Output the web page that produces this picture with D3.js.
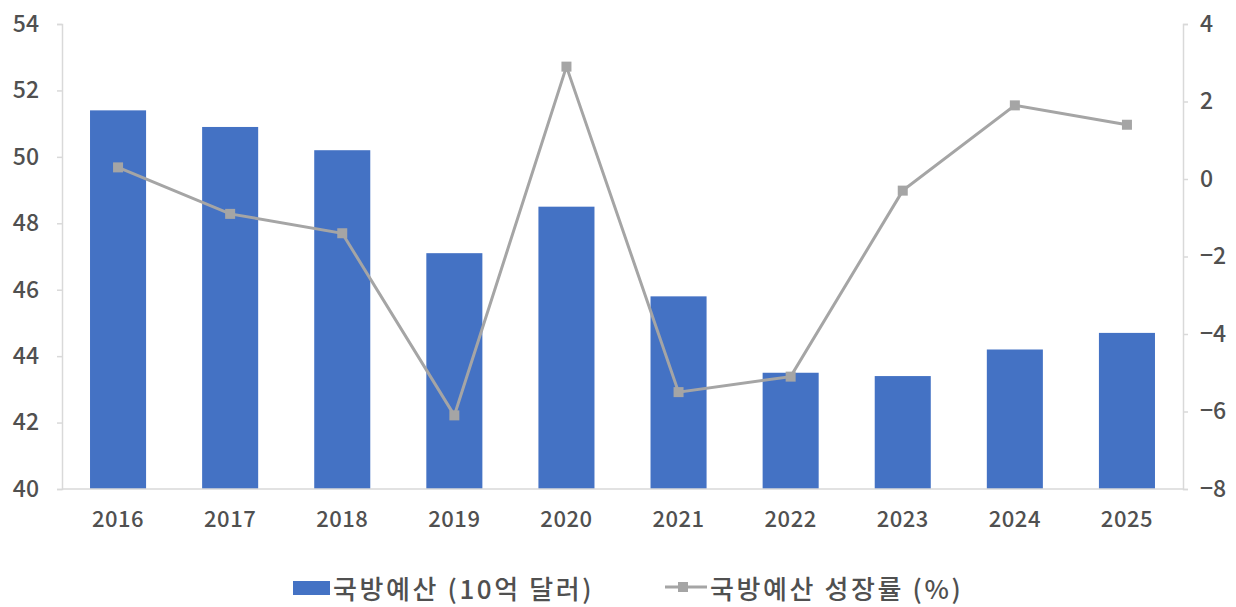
<!DOCTYPE html>
<html><head><meta charset="utf-8">
<script src="https://cdn.jsdelivr.net/npm/d3@7/dist/d3.min.js"></script>
<style>
body{margin:0;background:#fff;}
svg text{font-family:"Noto Sans CJK KR","Noto Sans",sans-serif;}
</style></head><body>
<svg id="c" width="1236" height="607"></svg>
<script>
const years = ["2016","2017","2018","2019","2020","2021","2022","2023","2024","2025"];
const budget = [51.4,50.9,50.2,47.1,48.5,45.8,43.5,43.4,44.2,44.7];
const growth = [0.3,-0.9,-1.4,-6.1,2.9,-5.5,-5.1,-0.3,1.9,1.4];
const leftTicks = [40,42,44,46,48,50,52,54];
const rightTicks = [-8,-6,-4,-2,0,2,4];
const legendLabels = ["국방예산 (10억 달러)","국방예산 성장률 (%)"];

const svg = d3.select("#c");
const L=62, R=1183, T=24, B=489;
const x = d3.scaleBand().domain(years).range([L,R]).paddingInner(0.5).paddingOuter(0.25);
const yL = d3.scaleLinear().domain([40,54]).range([B,T]);
const yR = d3.scaleLinear().domain([-8,4]).range([B,T]);
const axisCol="#d9d9d9", txtCol="#505050";
const FW = 500;

// bars
svg.append("g").selectAll("rect").data(budget).join("rect")
  .attr("x",(d,i)=>x(years[i])).attr("width",x.bandwidth())
  .attr("y",d=>yL(d)).attr("height",d=>B-yL(d)).attr("fill","#4472C4");

// axes
const gl = svg.append("g").attr("transform",`translate(${L},0)`)
  .call(d3.axisLeft(yL).tickValues(leftTicks).tickSize(5).tickPadding(18));
const gr = svg.append("g").attr("transform",`translate(${R},0)`)
  .call(d3.axisRight(yR).tickValues(rightTicks).tickSize(5).tickPadding(12));
const gb = svg.append("g").attr("transform",`translate(0,${B})`)
  .call(d3.axisBottom(x).tickSize(0).tickPadding(22));
[gl,gr,gb].forEach(g=>{
  g.select(".domain").attr("stroke",axisCol).attr("stroke-width",1.5);
  g.selectAll(".tick line").attr("stroke",axisCol).attr("stroke-width",1.5);
  g.selectAll(".tick text").attr("fill",txtCol).attr("font-size",23).attr("font-weight",FW)
   .style("font-family",'"Noto Sans CJK KR","Noto Sans",sans-serif');
});
gb.select(".domain").attr("d",`M${L},0H${R}`);
gb.selectAll(".tick text").attr("font-size",22).attr("letter-spacing",0.5);

// line
const cx = i=>x(years[i])+x.bandwidth()/2;
svg.append("path").datum(growth)
  .attr("d",d3.line().x((d,i)=>cx(i)).y(d=>yR(d)))
  .attr("fill","none").attr("stroke","#A5A5A5").attr("stroke-width",3);
svg.append("g").selectAll("rect").data(growth).join("rect")
  .attr("x",(d,i)=>cx(i)-5).attr("y",d=>yR(d)-5).attr("width",10).attr("height",10)
  .attr("fill","#A5A5A5");

// legend
const lg = svg.append("g");
lg.append("rect").attr("x",293).attr("y",581).attr("width",37).attr("height",14).attr("fill","#4472C4");
lg.append("text").attr("x",333).attr("y",599).attr("font-size",26).attr("font-weight",FW)
  .attr("letter-spacing",2.6).attr("fill",txtCol).text(legendLabels[0]);
lg.append("line").attr("x1",665).attr("x2",707).attr("y1",587).attr("y2",587)
  .attr("stroke","#A5A5A5").attr("stroke-width",3);
lg.append("rect").attr("x",678).attr("y",582).attr("width",10).attr("height",10).attr("fill","#A5A5A5");
lg.append("text").attr("x",710).attr("y",599).attr("font-size",26).attr("font-weight",FW)
  .attr("letter-spacing",2.6).attr("fill",txtCol).text(legendLabels[1]);
</script></body></html>
